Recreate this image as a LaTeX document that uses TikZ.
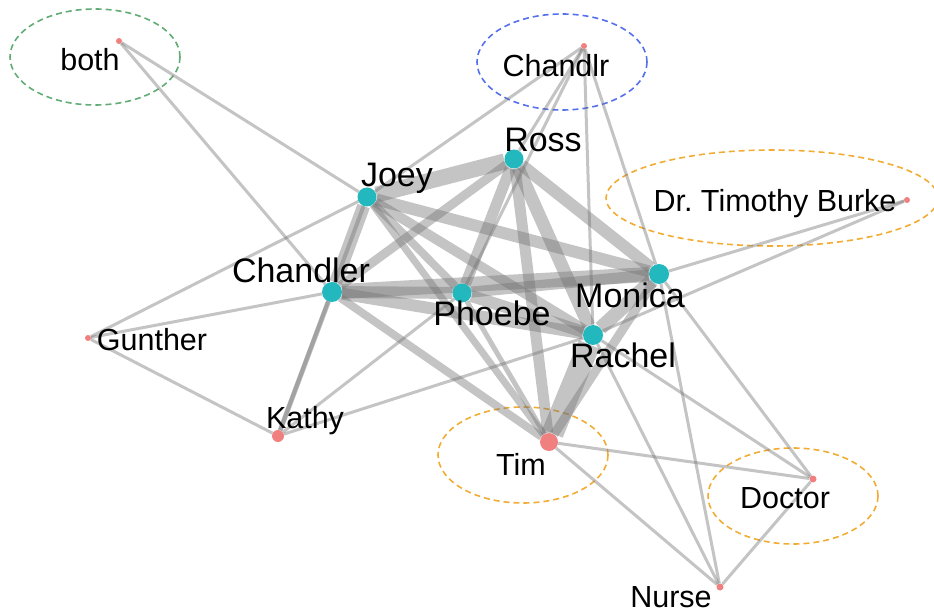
\documentclass[tikz,border=0pt]{standalone}
\usepackage{fontspec}
\setmainfont{Liberation Sans}
\usetikzlibrary{backgrounds}
\definecolor{castcol}{RGB}{34,184,190}
\definecolor{minorcol}{RGB}{240,128,128}
\definecolor{grpgreen}{RGB}{96,172,116}
\definecolor{grpblue}{RGB}{84,112,236}
\definecolor{grporange}{RGB}{242,172,52}
\tikzset{
	cast/.style={circle, fill=castcol, inner sep=0pt, minimum size=19pt},
	minor/.style={circle, fill=minorcol, inner sep=0pt, minimum size=#1},
	minor/.default=6pt,
	who/.style={font=\fontsize{34}{36}\selectfont, anchor=base, inner sep=0pt},
	whom/.style={font=\fontsize{30.5}{33}\selectfont, anchor=base, inner sep=0pt},
	tie/.style={draw=black!55, draw opacity=.42, line width=#1},
	tie/.default=3pt,
	grp/.style={draw=#1, dash pattern=on 6pt off 4pt, line width=1.6pt}
}
\frenchspacing

\begin{document}
\begin{tikzpicture}[x=1pt,y=-1pt]
	\useasboundingbox (0,0) rectangle (934,612);
	% characters
	\node[minor] (both) at (119,41) {};
	\node[minor] (chandlr) at (584,46) {};
	\node[cast] (ross) at (514,159) {};
	\node[cast] (joey) at (367,197) {};
	\node[minor] (burke) at (907,200) {};
	\node[cast, minimum size=20pt] (chandler) at (332,292) {};
	\node[cast] (phoebe) at (462,293) {};
	\node[cast, minimum size=20pt] (monica) at (659,274) {};
	\node[cast, minimum size=20pt] (rachel) at (593,335) {};
	\node[minor] (gunther) at (88,338) {};
	\node[minor=12pt] (kathy) at (278,436) {};
	\node[minor=18pt] (tim) at (549,442) {};
	\node[minor=7pt] (doctor) at (813,479) {};
	\node[minor=7pt] (nurse) at (720,587) {};
	% names
	\node[whom] (t-both) at (90,71) {both};
	\node[whom] (t-chandlr) at (556,77) {Chandlr};
	\node[who] (t-ross) at (543,152) {Ross};
	\node[who] (t-joey) at (397,187) {Joey};
	\node[whom] (t-burke) at (775,212) {Dr. Timothy Burke};
	\node[who] (t-chandler) at (301,283) {Chandler};
	\node[who] (t-phoebe) at (492,325) {Phoebe};
	\node[who] (t-monica) at (630,308) {Monica};
	\node[who] (t-rachel) at (623,367) {Rachel};
	\node[whom] (t-gunther) at (152,350) {Gunther};
	\node[whom] (t-kathy) at (305,428) {Kathy};
	\node[whom] (t-tim) at (521,475) {Tim};
	\node[whom] (t-doctor) at (785,508) {Doctor};
	\node[whom] (t-nurse) at (671,607) {Nurse};
	\begin{pgfonlayer}{background}
		% groups
		\draw[grp=grpgreen] (95,57) ellipse [x radius=85, y radius=48];
		\draw[grp=grpblue] (562,62) ellipse [x radius=85, y radius=48];
		\draw[grp=grporange] (772,198) ellipse [x radius=166, y radius=48];
		\draw[grp=grporange] (523,455) ellipse [x radius=85, y radius=48];
		\draw[grp=grporange] (793,496) ellipse [x radius=85, y radius=48];
		% strong ties
		\path[tie]
		(chandler) edge [tie=13pt] (joey)
		(chandler) edge [tie=12pt] (phoebe)
		(chandler) edge [tie=15pt] (monica)
		(chandler) edge [tie=12pt] (rachel)
		(chandler) edge [tie=9pt] (ross)
		(joey) edge [tie=16pt] (ross)
		(joey) edge [tie=8pt] (phoebe)
		(joey) edge [tie=12pt] (monica)
		(joey) edge [tie=10pt] (rachel)
		(ross) edge [tie=11pt] (phoebe)
		(ross) edge [tie=12pt] (monica)
		(ross) edge [tie=13pt] (rachel)
		(phoebe) edge [tie=11pt] (monica)
		(phoebe) edge [tie=12pt] (rachel)
		(monica) edge [tie=14pt] (rachel)
		(tim) edge [tie=22pt] (rachel)
		(tim) edge [tie=9pt] (monica)
		(tim) edge [tie=11pt] (ross)
		(tim) edge [tie=7pt] (joey)
		(tim) edge [tie=8pt] (chandler)
		(tim) edge [tie=5pt] (phoebe)
		(kathy) edge [tie=5pt] (chandler)
		(kathy) edge [tie=4pt] (joey);
		% weak ties
		\path[tie]
		(both) edge (joey)
		(both) edge (chandler)
		(chandlr) edge (joey)
		(chandlr) edge (ross)
		(chandlr) edge (phoebe)
		(chandlr) edge (rachel)
		(chandlr) edge (monica)
		(burke) edge (monica)
		(burke) edge (rachel)
		(gunther) edge (joey)
		(gunther) edge (chandler)
		(gunther) edge (kathy)
		(kathy) edge (phoebe)
		(kathy) edge (rachel)
		(tim) edge (doctor)
		(tim) edge (nurse)
		(doctor) edge (nurse)
		(rachel) edge (doctor)
		(monica) edge (doctor)
		(rachel) edge (nurse)
		(monica) edge (nurse);
	\end{pgfonlayer}
\end{tikzpicture}
\end{document}
